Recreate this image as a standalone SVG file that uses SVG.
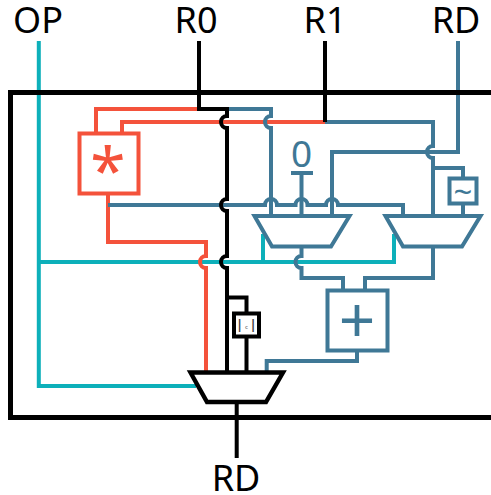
<svg xmlns="http://www.w3.org/2000/svg" width="491" height="495" viewBox="0 0 491 495">
<style>
text{font-family:"Noto Sans","Open Sans",sans-serif;text-anchor:middle}
.l{font-size:36px;fill:#000}
path,rect{fill:none;stroke-width:4}
.r{stroke:#F4523B}.b{stroke:#3F7896}.t{stroke:#0DB0BA}.k{stroke:#000}
.n{fill:#fff}
</style>
<rect width="491" height="495" fill="#fff" style="stroke:none"/>
<g id="connectors">
<path class="t" d="M38.8,41V386H196M38.8,262H394V234M263,262V234"/>
<path class="r" d="M198,109H96V133M325,122H122V133M108,195V242H206V256a6,6 0 0 0 0,12V372"/>
<path class="b" d="M108,205H265a6,6 0 0 1 12,0H295.500a6,6 0 0 1 12,0H326a6,6 0 0 1 12,0H403V216"/>
<path class="b" d="M228,109H271V116a6,6 0 0 0 0,12V216"/>
<path class="b" d="M325,122H433V146a6,6 0 0 0 0,12V216M433,168H463V178"/>
<path class="b" d="M458,41V152H332V216M301.500,173V216M463,203V216"/>
<path class="b" d="M301.500,247V256a6,6 0 0 0 0,12V278H343V290M433,247V278H365V290M357,351V361H266.700V372"/>
<path class="k" d="M199,41V109H227V116a6,6 0 0 0 0,12V199a6,6 0 0 0 0,12V256a6,6 0 0 0 0,12V372M227,297.500H246.500V313M246.500,337V372M325,41V122M236.700,402V458"/>
</g>
<g id="frame"><path class="k" style="stroke-width:5" d="M491,92.500H10.500V417.500H491"/></g>
<g id="mul"><rect class="r n" x="79.500" y="133.500" width="59" height="60"/><text x="108" y="194" font-size="64" fill="#F4523B">*</text></g>
<g id="zero"><path class="b" d="M291,173H313"/><text x="301.500" y="167" font-size="37" fill="#3F7896">0</text></g>
<g id="mux1"><path class="b n" d="M254.500,216H349.500L331,246.500H272Z"/></g>
<g id="mux2"><path class="b n" d="M385.500,216H480.500L462,246.500H403Z"/></g>
<g id="not"><rect class="b n" x="449.500" y="178.500" width="27" height="25"/><text x="463" y="203" font-size="33" fill="#3F7896">~</text></g>
<g id="add"><rect class="b n" x="327.500" y="290.500" width="60" height="60"/><text x="357" y="343" font-size="64" fill="#3F7896">+</text></g>
<g id="lsb"><rect class="k n" x="234" y="313.500" width="25" height="23"/><text y="329" font-size="13" font-weight="700" fill="#444"><tspan x="239.500">|</tspan><tspan x="246.500" font-size="6" font-weight="400">c</tspan><tspan x="253">|</tspan></text></g>
<g id="mux3"><path class="k n" style="stroke-width:4.400" d="M190.500,372.500H283L266,402H207Z"/></g>
<g id="labels">
<text class="l" x="38" y="33">OP</text>
<text class="l" x="196" y="33">R0</text>
<text class="l" x="325" y="33">R1</text>
<text class="l" x="456" y="33">RD</text>
<text class="l" x="236" y="491">RD</text>
</g>
</svg>
